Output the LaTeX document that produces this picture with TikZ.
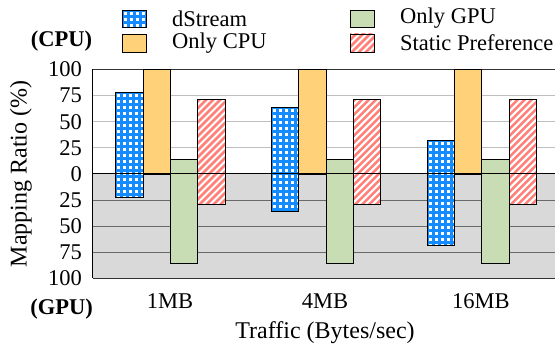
\documentclass[tikz,border=0pt]{standalone}
\usepackage{fontspec}
\setmainfont{Liberation Serif}
\definecolor{dblue}{RGB}{20,140,255}
\definecolor{ocpu}{RGB}{255,210,122}
\definecolor{ogpu}{RGB}{200,221,180}
\definecolor{salm}{RGB}{255,128,120}
\definecolor{bgray}{RGB}{217,217,217}
\definecolor{gridup}{RGB}{190,190,190}
\definecolor{griddn}{RGB}{105,105,105}
\tikzset{
  x=1pt, y=-1pt,
  barline/.style={draw=black, line width=0.8pt},
  txt/.style={font=\fontsize{22.5}{26}\selectfont, inner sep=0pt},
  ttl/.style={font=\fontsize{24}{28}\selectfont, inner sep=0pt},
  btxt/.style={font=\fontsize{22.5}{26}\selectfont\bfseries, inner sep=0pt},
}
% dStream pattern in a box: x1,y1,x2,y2
\newcommand\dsbox[4]{%
  \begin{scope}
    \clip (#1,#2) rectangle (#3,#4);
    \fill[dblue] (#1,#2) rectangle (#3,#4);
    \foreach \i in {0,...,5}{\foreach \j in {0,...,18}{%
      \fill[white] ({#1+1.7+6*\i},{#2+1.7+6*\j}) rectangle ++(3,3);}}
  \end{scope}
  \draw[barline] (#1,#2) rectangle (#3,#4);
}
\newcommand\spbox[4]{%
  \begin{scope}
    \clip (#1,#2) rectangle (#3,#4);
    \fill[white] (#1,#2) rectangle (#3,#4);
    \foreach \k in {-17,...,6}{%
      \draw[salm, line width=2.5pt] ({#1+7*\k},{#4+2}) -- ++(115,-115);}
  \end{scope}
  \draw[barline] (#1,#2) rectangle (#3,#4);
}
\newcommand\plbox[5]{%
  \fill[#5] (#1,#2) rectangle (#3,#4);
  \draw[barline] (#1,#2) rectangle (#3,#4);
}
\begin{document}
\begin{tikzpicture}
\useasboundingbox (0,0) rectangle (555,350);
\def\yz{174}
\def\sc{1.045}
% background
\fill[bgray] (92.5,\yz) rectangle (555,278.5);
% grid lines
\foreach \v in {25,50,75}{
  \draw[gridup, line width=1.2pt] (92.5,{\yz-\sc*\v}) -- (555,{\yz-\sc*\v});
  \draw[griddn, line width=0.8pt] (92.5,{\yz+\sc*\v}) -- (555,{\yz+\sc*\v});
}
\draw[black!80, line width=0.8pt] (92.5,69.5) -- (555,69.5);
\draw[black!80, line width=0.8pt] (92.5,278.5) -- (555,278.5);
\draw[black, line width=0.8pt] (92.5,69.5) -- (92.5,278.5);
% bars
\def\bw{27.4}
\foreach \gx/\du/\dd in {115.5/78/22, 271.2/64/36, 426.9/32/68}{
  \pgfmathsetmacro\xa{\gx}
  \pgfmathsetmacro\xb{\gx+\bw}
  \pgfmathsetmacro\xc{\gx+2*\bw}
  \pgfmathsetmacro\xd{\gx+3*\bw}
  \pgfmathsetmacro\xe{\gx+4*\bw}
  \dsbox{\xa}{\yz-\sc*\du}{\xb}{\yz+\sc*\dd}
  \plbox{\xb}{\yz-\sc*100}{\xc}{\yz}{ocpu}
  \plbox{\xc}{\yz-\sc*14}{\xd}{\yz+\sc*86}{ogpu}
  \spbox{\xd}{\yz-\sc*71}{\xe}{\yz+\sc*29}
}
\draw[black, line width=1pt] (92.5,\yz) -- (555,\yz);
% y tick labels
\foreach \v/\lab/\n in {100/100/a,75/75/b,50/50/c,25/25/d,0/0/e}{
  \node[txt, anchor=east] (tu\n) at (82,{\yz-\sc*\v}) {\lab};
}
\foreach \v/\lab/\n in {25/25/b,50/50/c,75/75/d,100/100/e}{
  \node[txt, anchor=east] (td\n) at (82,{\yz+\sc*\v}) {\lab};
}
\node[btxt] (cpu) at (61.5,41) {(CPU)};
\node[btxt] (gpu) at (61.5,309) {(GPU)};
\node[ttl, rotate=90] (ylab) at (21,174) {Mapping Ratio (\%)};
\node[txt] (c1) at (170,301) {1MB};
\node[txt] (c2) at (325,301) {4MB};
\node[txt] (c3) at (481,301) {16MB};
\node[ttl] (xlab) at (325,333) {Traffic (Bytes/sec)};
% legend
\dsbox{122}{10}{146.5}{27}
\plbox{122}{34}{146.5}{52}{ocpu}
\plbox{350}{10}{374}{27}{ogpu}
\spbox{350}{34}{374}{52}
\node[txt, anchor=west] (l1) at (172,18.5) {dStream};
\node[txt, anchor=west] (l2) at (172,43) {Only CPU};
\node[txt, anchor=west] (l3) at (400,18.5) {Only GPU};
\node[txt, anchor=west] (l4) at (400,43) {Static Preference};
\end{tikzpicture}
\end{document}
